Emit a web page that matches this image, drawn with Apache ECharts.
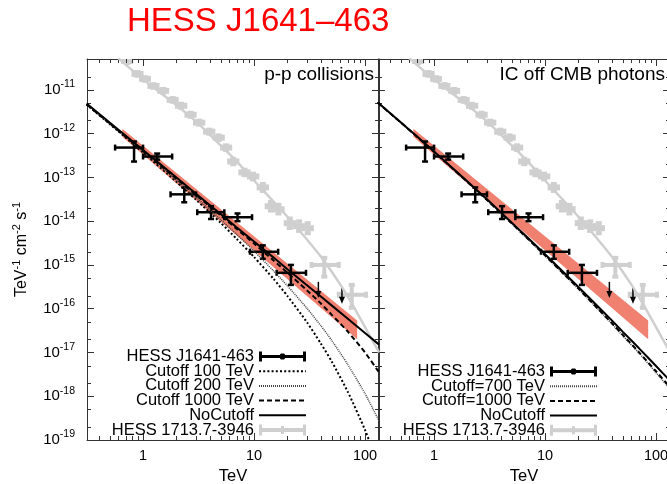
<!DOCTYPE html>
<html><head><meta charset="utf-8">
<script src="https://cdn.jsdelivr.net/npm/echarts@6/dist/echarts.min.js"></script>
<style>html,body{margin:0;padding:0;background:#fff}#c{width:667px;height:484px}</style>
</head><body><div id="c"></div>
<script>
const FONT = 'Liberation Sans, Arial, Helvetica, sans-serif';
const AXIS_COLOR = '#333';
const GRAY = '#cfcfcf';
const BAND_COLOR = '#f0806f';

// axis ranges (TeV, TeV^-1 cm^-2 s^-1)
const X_MIN = 0.3126, X_MAX = 133.7;
const Y_MIN = 1e-19, Y_MAX = 5.07e-11;

// minor tick values
const xMinorTicks = [0.4,0.5,0.6,0.7,0.8,0.9,2,3,4,5,6,7,8,9,20,30,40,50,60,70,80,90];
const yMinorTicks = [2e-19,5e-19,2e-18,5e-18,2e-17,5e-17,2e-16,5e-16,2e-15,5e-15,2e-14,5e-14,2e-13,5e-13,2e-12,5e-12,2e-11];

// model energies (TeV)
const modelE = [0.31, 0.5, 1, 2, 3, 5, 7, 10, 15, 20, 30, 40, 50, 70, 100, 134];
// p-p collisions models
const ppNoCutoff = [4.88e-12,1.79e-12,4.22e-13,9.9e-14,4.24e-14,1.46e-14,7.2e-15,3.42e-15,1.47e-15,8.0e-16,3.45e-16,1.89e-16,1.19e-16,5.9e-17,2.78e-17,1.51e-17];
const ppCut1000  = [4.66e-12,1.71e-12,4.0e-13,9.3e-14,3.98e-14,1.36e-14,6.6e-15,3.08e-15,1.26e-15,6.65e-16,2.62e-16,1.32e-16,7.3e-17,3.0e-17,1.0e-17,3.5e-18];
const ppCut200   = [4.72e-12,1.71e-12,3.89e-13,8.6e-14,3.5e-14,1.09e-14,4.93e-15,2.07e-15,7.3e-16,3.33e-16,1.02e-16,4.1e-17,1.9e-17,5.3e-18,1.15e-18,2.7e-19];
const ppCut100   = [4.6e-12,1.67e-12,3.7e-13,7.9e-14,3.1e-14,9.2e-15,3.9e-15,1.52e-15,4.8e-16,1.95e-16,4.9e-17,1.6e-17,6.3e-18,1.26e-18,1.7e-19,2.4e-20];
// IC off CMB models
const icNoCutoff = [5.2e-12,1.83e-12,3.92e-13,8.07e-14,3.15e-14,9.35e-15,4.17e-15,1.75e-15,6.43e-16,3.13e-16,1.12e-16,5.4e-17,3.0e-17,1.26e-17,4.9e-18,2.25e-18];
const icCut1000  = [5.14e-12,1.81e-12,3.83e-13,7.88e-14,3.04e-14,8.93e-15,3.98e-15,1.65e-15,6.0e-16,2.89e-16,9.98e-17,4.7e-17,2.55e-17,1.02e-17,3.72e-18,1.59e-18];
const icCut700   = [5.11e-12,1.80e-12,3.81e-13,7.8e-14,3.01e-14,8.83e-15,3.89e-15,1.62e-15,5.86e-16,2.82e-16,9.76e-17,4.54e-17,2.44e-17,9.8e-18,3.47e-18,1.45e-18];

// HESS J1641-463 measured points
const jE   = [0.83, 1.34, 2.35, 4.1, 7.1, 12.0, 21.5];
const jF   = [4.8e-13, 3.0e-13, 4.1e-14, 1.6e-14, 1.23e-14, 2.0e-15, 6.6e-16];
const jXlo = [0.56, 1.0, 1.77, 3.08, 5.4, 9.2, 16.0];
const jXhi = [1.0, 1.83, 3.0, 5.4, 9.6, 16.5, 29.4];
const jYlo = [2.3e-13, 2.55e-13, 2.7e-14, 1.12e-14, 1.0e-14, 1.38e-15, 3.5e-16];
const jYhi = [6.6e-13, 3.5e-13, 5.9e-14, 2.2e-14, 1.5e-14, 2.8e-15, 1.0e-15];
// upper limits
const ulE = [38, 62];
const ulF = [4.1e-16, 3.0e-16];
// fit band
const bandE  = [0.65, 85];
const bandLo = [8.5e-13, 2.0e-17];
const bandHi = [1.3e-12, 5.4e-17];

// HESS 1713.7-3946 points
const gE   = [0.72,0.89,1.04,1.24,1.52,1.85,2.2,2.68,3.2,3.95,4.8,5.6,6.5,8.2,9.8,12,14.2,16.6,21,25.5,30.5,43,76];
const gF   = [4.56e-11,2.31e-11,1.78e-11,1.23e-11,9.5e-12,5.9e-12,4.33e-12,2.7e-12,1.78e-12,1.11e-12,8.1e-13,4.8e-13,2.31e-13,1.30e-13,1.05e-13,5.9e-14,2.19e-14,1.87e-14,9.0e-15,7.7e-15,6.9e-15,1.0e-15,2.08e-16];
const gXlo = [0.66,0.82,0.96,1.14,1.40,1.70,2.02,2.46,2.94,3.63,4.41,5.15,5.97,7.53,9.0,11.0,13.0,15.3,19.3,23.4,28.0,33,58];
const gXhi = [0.78,0.97,1.13,1.35,1.65,2.01,2.40,2.92,3.49,4.30,5.23,6.10,7.08,8.93,10.7,13.1,15.5,18.1,22.9,27.8,33.2,58,102];
const gYlo = [4.1e-11,2.1e-11,1.62e-11,1.12e-11,8.6e-12,5.35e-12,3.9e-12,2.43e-12,1.6e-12,1.0e-12,7.2e-13,4.25e-13,2.0e-13,1.12e-13,9.0e-14,4.9e-14,1.75e-14,1.5e-14,7.0e-15,6.0e-15,5.3e-15,5.4e-16,1.05e-16];
const gYhi = [5.0e-11,2.55e-11,1.95e-11,1.35e-11,1.05e-11,6.5e-12,4.8e-12,3.0e-12,1.98e-12,1.23e-12,9.1e-13,5.4e-13,2.65e-13,1.5e-13,1.22e-13,7.1e-14,2.75e-14,2.35e-14,1.15e-14,9.9e-15,9.0e-15,1.45e-15,3.5e-16];
// HESS 1713.7-3946 fitted curve
const gLineE = [0.6,1,2,3,5,7,10,15,20,30,42,60,80,100,134];
const gLineF = [5.25e-11,1.74e-11,4.47e-12,1.91e-12,5.4e-13,2.3e-13,8.5e-14,2.8e-14,1.26e-14,3.8e-15,1.32e-15,3.55e-16,1.05e-16,3.8e-17,1.0e-17];

// ---------- helpers ----------
const pairs = (xs, ys) => xs.map((x, i) => [x, ys[i]]);
const errData = (E, F, xl, xh, yl, yh) => E.map((e, i) => [e, F[i], xl[i], xh[i], yl[i], yh[i]]);

function errRender(color, lw, cap, dot) {
  return function (params, api) {
    const c = api.coord([api.value(0), api.value(1)]);
    const xl = api.coord([api.value(2), api.value(1)]);
    const xh = api.coord([api.value(3), api.value(1)]);
    const yl = api.coord([api.value(0), api.value(4)]);
    const yh = api.coord([api.value(0), api.value(5)]);
    const st = { stroke: color, lineWidth: lw };
    const ch = [
      { type: 'line', shape: { x1: xl[0], y1: c[1], x2: xh[0], y2: c[1] }, style: st },
      { type: 'line', shape: { x1: c[0], y1: yl[1], x2: c[0], y2: yh[1] }, style: st },
      { type: 'line', shape: { x1: xl[0], y1: c[1] - cap, x2: xl[0], y2: c[1] + cap }, style: st },
      { type: 'line', shape: { x1: xh[0], y1: c[1] - cap, x2: xh[0], y2: c[1] + cap }, style: st },
      { type: 'line', shape: { x1: c[0] - cap, y1: yl[1], x2: c[0] + cap, y2: yl[1] }, style: st },
      { type: 'line', shape: { x1: c[0] - cap, y1: yh[1], x2: c[0] + cap, y2: yh[1] }, style: st }
    ];
    if (dot) ch.push({ type: 'circle', shape: { cx: c[0], cy: c[1], r: dot }, style: { fill: color } });
    return { type: 'group', children: ch };
  };
}
function ulRender(params, api) {
  const p = api.coord([api.value(0), api.value(1)]);
  const x = p[0], y = p[1];
  return { type: 'group', children: [
    { type: 'line', shape: { x1: x, y1: y, x2: x, y2: y + 11 }, style: { stroke: '#000', lineWidth: 1.5 } },
    { type: 'polygon', shape: { points: [[x - 3, y + 9], [x + 3, y + 9], [x, y + 16]] }, style: { fill: '#000' } }
  ]};
}
function bandRender(params, api) {
  if (params.dataIndex !== 0) return;
  const top = bandE.map((e, i) => api.coord([e, bandHi[i]]));
  const bot = bandE.map((e, i) => api.coord([e, bandLo[i]])).reverse();
  return { type: 'polygon', shape: { points: top.concat(bot) }, style: { fill: BAND_COLOR } };
}
function xMinorRender(params, api) {
  const b = api.coord([api.value(0), Y_MIN]);
  const t = api.coord([api.value(0), Y_MAX]);
  const x = Math.round(b[0]) + 0.5;
  const st = { stroke: AXIS_COLOR, lineWidth: 1 };
  return { type: 'group', children: [
    { type: 'line', shape: { x1: x, y1: b[1], x2: x, y2: b[1] - 4 }, style: st },
    { type: 'line', shape: { x1: x, y1: t[1], x2: x, y2: t[1] + 4 }, style: st }
  ]};
}
function yMinorRender(params, api) {
  const l = api.coord([X_MIN, api.value(1)]);
  const r = api.coord([X_MAX, api.value(1)]);
  const y = Math.round(l[1]) + 0.5;
  const st = { stroke: AXIS_COLOR, lineWidth: 1 };
  return { type: 'group', children: [
    { type: 'line', shape: { x1: l[0], y1: y, x2: l[0] + 4, y2: y }, style: st },
    { type: 'line', shape: { x1: r[0], y1: y, x2: r[0] - 4, y2: y }, style: st }
  ]};
}

const supRich = {
  b: { fontSize: 15, lineHeight: 22, fontFamily: FONT, color: '#000' },
  s: { fontSize: 10.5, lineHeight: 12, verticalAlign: 'top', fontFamily: FONT, color: '#000' }
};

function xAxisCfg(gi, pos, showLabel) {
  return {
    type: 'log', logBase: 10, gridIndex: gi, position: pos, min: X_MIN, max: X_MAX,
    axisLine: { show: true, onZero: false, lineStyle: { color: AXIS_COLOR, width: 1 } },
    axisTick: { show: true, inside: true, length: 7, lineStyle: { color: AXIS_COLOR } },
    minorTick: { show: false }, splitLine: { show: false },
    axisLabel: { show: showLabel, showMinLabel: false, showMaxLabel: false, margin: 8,
      fontSize: 14.5, color: '#000', fontFamily: FONT,
      formatter: v => (v >= 1 ? String(Math.round(v)) : String(v)) },
    name: showLabel ? 'TeV' : '', nameLocation: 'middle', nameGap: 27,
    nameTextStyle: { fontSize: 16.5, color: '#000', fontFamily: FONT }
  };
}
function yAxisCfg(gi, pos, showLabel) {
  return {
    type: 'log', logBase: 10, gridIndex: gi, position: pos, min: Y_MIN, max: Y_MAX,
    axisLine: { show: true, onZero: false, lineStyle: { color: AXIS_COLOR, width: 1 } },
    axisTick: { show: true, inside: true, length: 7, lineStyle: { color: AXIS_COLOR } },
    minorTick: { show: false }, splitLine: { show: false },
    axisLabel: { show: showLabel, showMinLabel: true, showMaxLabel: false, margin: 12,
      formatter: v => '{b|10}{s|' + Math.round(Math.log10(v)) + '}', rich: supRich },
    name: showLabel ? 'TeV{s|-1} cm{s|-2} s{s|-1}' : '', nameLocation: 'middle', nameGap: 54,
    nameTextStyle: { fontSize: 16, lineHeight: 22, color: '#000', fontFamily: FONT,
      rich: { s: { fontSize: 11, lineHeight: 12, verticalAlign: 'top', fontFamily: FONT, color: '#000' } } }
  };
}

function lineSeries(name, gi, ys, color, width, type, smooth) {
  return { type: 'line', name, xAxisIndex: gi * 2, yAxisIndex: gi * 2, data: pairs(modelE, ys),
    symbol: 'none', smooth: smooth || false, silent: true,
    lineStyle: { color, width, type }, itemStyle: { color } };
}

function panelCommon(gi) {
  const xa = gi * 2, ya = gi * 2;
  return {
    band: { type: 'custom', name: 'band' + gi, xAxisIndex: xa, yAxisIndex: ya, silent: true,
      data: pairs(bandE, bandHi), encode: { x: 0, y: 1 }, renderItem: bandRender, clip: true },
    gline: { type: 'line', name: 'HESS 1713.7-3946', xAxisIndex: xa, yAxisIndex: ya, silent: true,
      data: pairs(gLineE, gLineF), symbol: 'none', smooth: 0.3,
      lineStyle: { color: GRAY, width: 2.5 }, itemStyle: { color: GRAY } },
    gpts: { type: 'custom', name: 'HESS 1713.7-3946', xAxisIndex: xa, yAxisIndex: ya, silent: true,
      data: errData(gE, gF, gXlo, gXhi, gYlo, gYhi), encode: { x: 0, y: 1 },
      renderItem: errRender(GRAY, 4, 3, 0), itemStyle: { color: GRAY }, clip: true },
    jpts: { type: 'custom', name: 'HESS J1641-463', xAxisIndex: xa, yAxisIndex: ya, silent: true,
      data: errData(jE, jF, jXlo, jXhi, jYlo, jYhi), encode: { x: 0, y: 1 },
      renderItem: errRender('#000', 2.5, 3, 1.5), itemStyle: { color: '#000' } },
    ul: { type: 'custom', name: 'ul' + gi, xAxisIndex: xa, yAxisIndex: ya, silent: true,
      data: pairs(ulE, ulF), encode: { x: 0, y: 1 }, renderItem: ulRender },
    xmin: { type: 'custom', name: 'xminor' + gi, xAxisIndex: xa, yAxisIndex: ya, silent: true,
      data: xMinorTicks.map(v => [v, Y_MIN]), encode: { x: 0, y: 1 }, renderItem: xMinorRender },
    ymin: { type: 'custom', name: 'yminor' + gi, xAxisIndex: xa, yAxisIndex: ya, silent: true,
      data: yMinorTicks.map(v => [X_MIN, v]), encode: { x: 0, y: 1 }, renderItem: yMinorRender }
  };
}
const P0 = panelCommon(0), P1 = panelCommon(1);

const J_ICON = 'path://M0,5.5H47V8.5H0Z M0,2H3V12H0Z M44,2H47V12H44Z M21,5L22,4H25L26,5V9L25,10H22L21,9Z';
const G_ICON = 'path://M0,5H47V9H0Z M0,1.5H3V12.5H0Z M44,1.5H47V12.5H44Z M22,3H25V11H22Z';
const hid = { opacity: 0 };

const legendBase = {
  orient: 'vertical', align: 'right', padding: 0, itemGap: -2.3, itemWidth: 47, itemHeight: 12,
  selectedMode: false, symbolKeepAspect: true,
  textStyle: { fontSize: 16.5, lineHeight: 12, color: '#000', fontFamily: FONT }
};

const option = {
  animation: false,
  backgroundColor: '#fff',
  title: [
    { text: 'HESS J1641\u2013463', left: 127, top: 5, padding: 0,
      textStyle: { color: '#ff0000', fontSize: 33, fontWeight: 'normal', fontFamily: FONT } },
    { text: 'p-p collisions', right: 293, top: 65, padding: 0,
      textStyle: { color: '#000', fontSize: 19, fontWeight: 'normal', fontFamily: FONT } },
    { text: 'IC off CMB photons', right: 2, top: 65, padding: 0,
      textStyle: { color: '#000', fontSize: 19, fontWeight: 'normal', fontFamily: FONT } }
  ],
  grid: [
    { left: 87, top: 59, width: 292, height: 381, outerBoundsMode: 'none', containLabel: false },
    { left: 378, top: 59, width: 292, height: 381, outerBoundsMode: 'none', containLabel: false }
  ],
  xAxis: [xAxisCfg(0, 'bottom', true), xAxisCfg(0, 'top', false), xAxisCfg(1, 'bottom', true), xAxisCfg(1, 'top', false)],
  yAxis: [yAxisCfg(0, 'left', true), yAxisCfg(0, 'right', false), yAxisCfg(1, 'left', false), yAxisCfg(1, 'right', false)],
  legend: [
    Object.assign({}, legendBase, { right: 360, top: 348, data: [
      { name: 'HESS J1641-463', icon: J_ICON },
      { name: 'Cutoff 100 TeV', itemStyle: hid },
      { name: 'Cutoff 200 TeV', itemStyle: hid },
      { name: 'Cutoff 1000 TeV', itemStyle: hid },
      { name: 'NoCutoff', itemStyle: hid },
      { name: 'HESS 1713.7-3946', icon: G_ICON }
    ] }),
    Object.assign({}, legendBase, { right: 69, top: 363, data: [
      { name: 'HESS J1641-463', icon: J_ICON },
      { name: 'Cutoff=700 TeV', itemStyle: hid },
      { name: 'Cutoff=1000 TeV', itemStyle: hid },
      { name: 'NoCutoff', itemStyle: hid },
      { name: 'HESS 1713.7-3946', icon: G_ICON }
    ] })
  ],
  series: [
    // left panel
    P0.band, P0.gline, P0.gpts,
    lineSeries('Cutoff 100 TeV', 0, ppCut100, '#000', 2, [2, 2.2], 0.2),
    lineSeries('Cutoff 200 TeV', 0, ppCut200, '#444', 1.5, [1, 1], 0.2),
    lineSeries('Cutoff 1000 TeV', 0, ppCut1000, '#000', 2, [5, 3], 0.2),
    lineSeries('NoCutoff', 0, ppNoCutoff, '#000', 2, 'solid', false),
    P0.jpts, P0.ul, P0.xmin, P0.ymin,
    // right panel
    P1.band, P1.gline, P1.gpts,
    Object.assign(lineSeries('Cutoff=700 TeV', 1, icCut700, '#444', 1.5, [1, 1], 0.2), { xAxisIndex: 2, yAxisIndex: 2 }),
    Object.assign(lineSeries('Cutoff=1000 TeV', 1, icCut1000, '#000', 2, [5, 3], 0.2), { xAxisIndex: 2, yAxisIndex: 2 }),
    Object.assign(lineSeries('NoCutoff', 1, icNoCutoff, '#000', 2, 'solid', 0.2), { xAxisIndex: 2, yAxisIndex: 2 }),
    P1.jpts, P1.ul, P1.xmin, P1.ymin
  ]
};

const chart = echarts.init(document.getElementById('c'), null, { renderer: 'canvas' });
chart.setOption(option);
</script>
</body></html>
